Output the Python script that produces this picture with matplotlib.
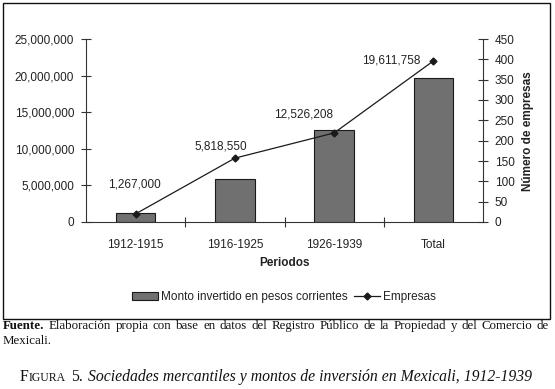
import numpy as np
import matplotlib
matplotlib.use('Agg')
import matplotlib.pyplot as plt
from matplotlib.patches import Rectangle, Patch
from matplotlib.lines import Line2D
from matplotlib.ticker import FuncFormatter

# ---------------- data ----------------
periodos = ['1912-1915', '1916-1925', '1926-1939', 'Total']
monto = [1267000, 5818550, 12526208, 19611758]
empresas = [20, 157, 219, 396]
left_ticks = [0, 5000000, 10000000, 15000000, 20000000, 25000000]
right_ticks = [0, 50, 100, 150, 200, 250, 300, 350, 400, 450]

plt.rcParams['font.family'] = ['Liberation Sans', 'DejaVu Sans']

W, H = 555, 389
fig = plt.figure(figsize=(W / 100, H / 100), dpi=100)
fig.patch.set_facecolor('white')


def fx(px):
    return px / W


def fy(py):
    return 1 - py / H


txt_col = '#222222'
ax_col = '#333333'

ax = fig.add_axes([fx(86), fy(222), (483 - 86) / W, (222 - 39) / H])
x = np.arange(len(periodos))
ax.bar(x, monto, width=0.4, color='#707070', edgecolor='#1a1a1a', linewidth=0.8, zorder=2)
ax.set_xlim(-0.5, len(periodos) - 0.5)
ax.set_ylim(0, left_ticks[-1])
ax.set_yticks(left_ticks)
ax.yaxis.set_major_formatter(FuncFormatter(lambda v, p: f"{int(v):,}"))
ax.set_xticks(x)
ax.set_xticklabels(periodos)
ax.set_xticks(x[:-1] + 0.5, minor=True)
ax.tick_params(axis='x', which='major', length=0, pad=12, labelsize=8.5, labelcolor=txt_col)
ax.tick_params(axis='x', which='minor', direction='inout', length=7, width=0.8, color=ax_col)
ax.tick_params(axis='y', direction='inout', length=7, width=0.8, color=ax_col, pad=5,
               labelsize=8.5, labelcolor=txt_col)
for s in ['top', 'right']:
    ax.spines[s].set_visible(False)
for s in ['left', 'bottom']:
    ax.spines[s].set_color(ax_col)
    ax.spines[s].set_linewidth(0.8)

ax2 = ax.twinx()
ax2.set_ylim(0, right_ticks[-1])
ax2.set_yticks(right_ticks)
ax2.plot(x, empresas, color='#1a1a1a', lw=0.9, marker='D', ms=3.5, zorder=3)
for s in ['top', 'left', 'bottom']:
    ax2.spines[s].set_visible(False)
ax2.spines['right'].set_color(ax_col)
ax2.spines['right'].set_linewidth(0.8)
ax2.tick_params(axis='y', direction='inout', length=7, width=0.8, color=ax_col, pad=5,
                labelsize=8.5, labelcolor=txt_col)

# data labels (amounts) near the line points
offsets = [(-1, 29), (-14, 12), (-31, 18), (-42, 0)]
for xi, yi, v, off in zip(x, empresas, monto, offsets):
    ax2.annotate(f"{v:,}", xy=(xi, yi), xytext=off, textcoords='offset pixels',
                 ha='center', va='center', fontsize=8.5, color=txt_col)

fig.text(fx(284.5), fy(263), 'Periodos', ha='center', va='center', fontsize=8.5,
         fontweight='bold', color=txt_col)
fig.text(fx(528), fy(131), 'Número de empresas', ha='center', va='center', rotation=90,
         fontsize=8.5, fontweight='bold', color=txt_col)

handles = [Patch(facecolor='#707070', edgecolor='#1a1a1a', linewidth=0.8),
           Line2D([], [], color='#1a1a1a', lw=0.9, marker='D', ms=3.5)]
fig.legend(handles, ['Monto invertido en pesos corrientes', 'Empresas'], loc='center',
           bbox_to_anchor=(fx(284), fy(297)), ncol=2, frameon=False, fontsize=8.5,
           handlelength=2.2, handleheight=0.6, handletextpad=0.25, columnspacing=0.6,
           labelcolor=txt_col)

# frame around chart
fig.add_artist(Rectangle((fx(3), fy(319)), (550 - 3) / W, (319 - 3) / H,
                         transform=fig.transFigure, fill=False, edgecolor='#111111',
                         linewidth=1.0))

renderer = fig.canvas.get_renderer()

# Fuente line, justified
serif = ['Liberation Serif', 'DejaVu Serif']
line1 = ("Elaboración propia con base en datos del Registro Público de la Propiedad "
         "y del Comercio de").split()
words = [('Fuente.', 'bold')] + [(w, 'normal') for w in line1]
x0, x1 = 3, 549
want_gap = 4.5


def make_words(fs):
    res = []
    for w, wt in words:
        t = fig.text(0, fy(326), w, ha='left', va='center', fontsize=fs, fontweight=wt,
                     family=serif, color='#111111')
        res.append(t)
    return res


objs = make_words(8.0)
w0 = sum(t.get_window_extent(renderer).width for t in objs)
for t in objs:
    t.remove()
fs_src = 8.0 * (x1 - x0 - want_gap * (len(words) - 1)) / w0
objs = make_words(fs_src)
widths = [t.get_window_extent(renderer).width for t in objs]
gap = (x1 - x0 - sum(widths)) / (len(objs) - 1)
cur = x0
for t, wdt in zip(objs, widths):
    t.set_x(fx(cur))
    cur += wdt + gap
fig.text(fx(3), fy(341), 'Mexicali.', ha='left', va='center', fontsize=fs_src, family=serif,
         color='#111111')


# caption with small caps
def build_caption(size):
    parts = [('F', size, 'normal', 0), ('IGURA', size * 0.75, 'normal', 0),
             ('5.', size, 'normal', size * 0.33),
             ('Sociedades mercantiles y montos de inversión en Mexicali, 1912-1939', size,
              'italic', size * 0.33)]
    arts = []
    for s, fs, st, g in parts:
        t = fig.text(0, fy(381), s, ha='left', va='baseline', fontsize=fs, style=st,
                     family=serif, color='#111111')
        arts.append((t, g * 100 / 72))
    return arts


arts = build_caption(12)
total = sum(t.get_window_extent(renderer).width + g for t, g in arts)
for t, g in arts:
    t.remove()
size = 12 * (532 - 20) / total
arts = build_caption(size)
cur = 20
for t, g in arts:
    cur += g
    t.set_x(fx(cur))
    cur += t.get_window_extent(renderer).width

fig.savefig('out.png', dpi=100)
